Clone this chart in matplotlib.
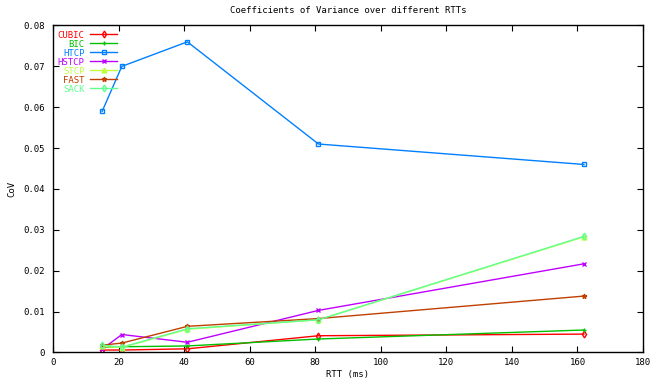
import matplotlib
matplotlib.use("Agg")
import matplotlib.pyplot as plt
from matplotlib.ticker import MultipleLocator, FuncFormatter

# RTT values (ms) and coefficient of variance per TCP variant
rtt = [15, 21, 41, 81, 162]
cubic = [0.0006, 0.0006, 0.0009, 0.0041, 0.0045]
bic = [0.0013, 0.0014, 0.0016, 0.0033, 0.0055]
htcp = [0.0590, 0.0700, 0.0760, 0.0510, 0.0460]
hstcp = [0.0008, 0.0044, 0.0025, 0.0103, 0.0217]
stcp = [0.0015, 0.0012, 0.0057, 0.0080, 0.0283]
fast = [0.0018, 0.0023, 0.0064, 0.0083, 0.0138]
sack = [0.0018, 0.0013, 0.0058, 0.0080, 0.0284]

names = ["CUBIC", "BIC", "HTCP", "HSTCP", "STCP", "FAST", "SACK"]
series = [cubic, bic, htcp, hstcp, stcp, fast, sack]
colors = ["#ff0000", "#00c000", "#0080ff", "#c000ff", "#c0ff40", "#c04000", "#60ff90"]
markers = ["d", "+", "s", "x", "^", "*", "d"]

font = "DejaVu Sans Mono"
fig = plt.figure(figsize=(6.59, 3.80), dpi=100)
ax = fig.add_axes([0.0804, 0.0724, 0.8953, 0.8605])

for name, ys, c, m in zip(names, series, colors, markers):
    mfc = "none" if m in ("s", "d") else c
    ax.plot(rtt, ys, color=c, lw=1.0, marker=m, ms=3.5, mfc=mfc, mec=c, mew=1.0, label=name)

ax.set_xlim(0, 180)
ax.set_ylim(0, 0.08)
ax.xaxis.set_major_locator(MultipleLocator(20))
ax.yaxis.set_major_locator(MultipleLocator(0.01))
ax.yaxis.set_major_formatter(FuncFormatter(lambda v, p: "0" if abs(v) < 1e-9 else f"{v:.2f}"))
ax.tick_params(direction="in", length=4, width=0.8, top=True, right=True, labelsize=6.5)
ax.tick_params(axis="x", pad=4)
ax.tick_params(axis="y", pad=6)
for lab in ax.get_xticklabels() + ax.get_yticklabels():
    lab.set_family(font)
for s in ax.spines.values():
    s.set_linewidth(1.0)

ax.set_title("Coefficients of Variance over different RTTs", fontsize=6.5, family=font, pad=9)
ax.set_xlabel("RTT (ms)", fontsize=6.5, family=font, labelpad=2)
ax.set_ylabel("CoV", fontsize=6.5, family=font, labelpad=5)

leg = ax.legend(loc="upper left", frameon=False, markerfirst=False,
                handlelength=3.0, handletextpad=0.6, labelspacing=0.0,
                borderaxespad=0.0, borderpad=0.2, bbox_to_anchor=(0.005, 0.99),
                prop={"family": font, "size": 6.5})
for t, c in zip(leg.get_texts(), colors):
    t.set_color(c)
    t.set_ha("right")
leg._legend_box.align = "right"

fig.savefig("out.png", dpi=100)
